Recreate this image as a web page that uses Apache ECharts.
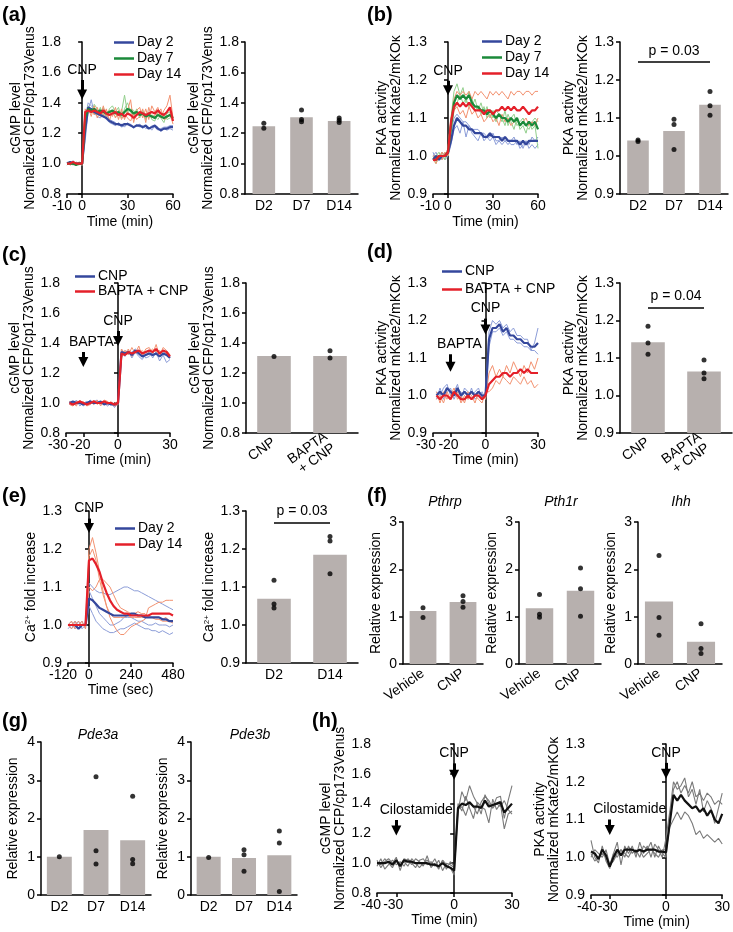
<!DOCTYPE html>
<html>
<head>
<meta charset="utf-8">
<script src="https://cdn.jsdelivr.net/npm/echarts@6/dist/echarts.min.js"></script>
<style>
  html, body { margin: 0; padding: 0; background: #fff; }
  #fig { width: 733px; height: 932px; }
</style>
</head>
<body>
<div id="fig"></div>
<script>
// ── time points ─────────────────────────────────────────
const tA = [-10,-8,-6,-4,-2,0, 2,4,6,8,10,12,14,16,18,20, 22,24,26,28,30,32,34,36,38,40, 42,44,46,48,50,52,54,56,58,60];
const tC = [-28,-26,-24,-22,-20,-18,-16,-14,-12,-10,-8,-6,-4,-2,0, 2,4,6,8,10,12,14,16,18,20,22,24,26,28,30];
const tE = [-120,-100,-80,-60,-40,-20, 0,20,40,60,80,100,120,140,160,180,200,220,240,260,280,300,320,340,360,380,400,420,440,460,480];
const tH = [-40,-38,-36,-34,-32,-30,-28,-26,-24,-22,-20,-18,-16,-14,-12,-10,-8,-6,-4,-2,0, 2,4,6,8,10,12,14,16,18,20,22,24,26,28,30];

// ── (a) cGMP, Day 2 / 7 / 14 ────────────────────────────
const aDay2   = [1.00,1.01,1.00,1.00,1.00,1.00, 1.22,1.37,1.36,1.34,1.33,1.32,1.31,1.30,1.28,1.27, 1.26,1.26,1.25,1.26,1.26,1.25,1.24,1.25,1.25,1.24, 1.25,1.23,1.24,1.25,1.23,1.22,1.23,1.23,1.24,1.24];
const aDay2r1 = [1.01,1.00,1.02,0.99,1.01,1.00, 1.30,1.40,1.38,1.36,1.35,1.33,1.31,1.32,1.29,1.28, 1.27,1.25,1.26,1.24,1.27,1.25,1.23,1.26,1.24,1.25, 1.23,1.24,1.22,1.25,1.24,1.21,1.23,1.22,1.23,1.22];
const aDay2r2 = [0.99,1.01,0.99,1.01,1.00,0.99, 1.15,1.35,1.42,1.33,1.31,1.30,1.32,1.29,1.27,1.26, 1.25,1.27,1.24,1.25,1.26,1.26,1.24,1.25,1.26,1.23, 1.25,1.23,1.25,1.24,1.22,1.23,1.24,1.24,1.25,1.25];
const aDay7   = [1.00,1.00,1.00,0.99,1.00,1.00, 1.30,1.36,1.35,1.36,1.34,1.35,1.34,1.33,1.34,1.35, 1.33,1.34,1.32,1.34,1.36,1.35,1.33,1.34,1.32,1.33, 1.31,1.32,1.31,1.30,1.32,1.31,1.30,1.31,1.32,1.30];
const aDay7r1 = [1.01,0.99,1.01,1.00,0.99,1.01, 1.28,1.38,1.33,1.39,1.36,1.33,1.37,1.31,1.36,1.38, 1.34,1.37,1.30,1.36,1.40,1.34,1.31,1.36,1.30,1.35, 1.29,1.34,1.29,1.28,1.35,1.30,1.27,1.33,1.34,1.28];
const aDay7r2 = [0.99,1.01,1.00,0.99,1.01,0.99, 1.32,1.34,1.36,1.33,1.32,1.37,1.31,1.35,1.32,1.33, 1.31,1.32,1.34,1.45,1.33,1.36,1.35,1.32,1.34,1.31, 1.33,1.30,1.32,1.31,1.29,1.32,1.33,1.29,1.30,1.31];
const aDay14   = [1.00,1.00,1.01,1.00,1.00,1.00, 1.34,1.35,1.34,1.35,1.34,1.33,1.35,1.33,1.32,1.33, 1.34,1.32,1.33,1.31,1.33,1.32,1.30,1.32,1.34,1.33, 1.32,1.33,1.34,1.33,1.35,1.33,1.32,1.34,1.37,1.28];
const aDay14r1 = [1.00,1.01,0.99,1.01,1.00,0.99, 1.36,1.33,1.36,1.32,1.37,1.31,1.38,1.30,1.35,1.31, 1.37,1.29,1.36,1.29,1.35,1.42,1.27,1.35,1.37,1.30, 1.36,1.29,1.38,1.34,1.37,1.30,1.35,1.38,1.45,1.30];
const aDay14r2 = [1.01,0.99,1.00,1.00,1.01,1.00, 1.32,1.37,1.31,1.38,1.30,1.35,1.32,1.36,1.28,1.35, 1.30,1.35,1.29,1.33,1.30,1.28,1.33,1.29,1.31,1.36, 1.27,1.37,1.30,1.32,1.33,1.36,1.29,1.30,1.33,1.26];
const aCats = ['D2', 'D7', 'D14'];
const aBars = [1.245, 1.305, 1.28];
const aDots = [['D2',1.265],['D2',1.232],['D7',1.352],['D7',1.29],['D7',1.275],['D14',1.30],['D14',1.285],['D14',1.27]];
const aArrows = [{ text: 'CNP', t: 0, from: 1.55, to: 1.455 }];

// ── (b) PKA, Day 2 / 7 / 14 ─────────────────────────────
const bDay2   = [0.99,1.00,0.99,1.00,1.00,1.01, 1.04,1.08,1.10,1.09,1.08,1.08,1.07,1.07,1.06,1.06, 1.06,1.05,1.05,1.06,1.05,1.05,1.05,1.04,1.05,1.04, 1.04,1.04,1.04,1.03,1.04,1.03,1.04,1.04,1.04,1.04];
const bDay2r1 = [1.00,1.01,0.99,1.01,1.00,1.02, 1.06,1.10,1.11,1.10,1.09,1.09,1.08,1.07,1.07,1.07, 1.06,1.06,1.05,1.05,1.06,1.04,1.04,1.05,1.04,1.03, 1.04,1.05,1.03,1.04,1.02,1.04,1.03,1.05,1.04,1.05];
const bDay2r2 = [1.01,0.99,1.00,1.00,0.99,1.00, 1.03,1.07,1.08,1.06,1.09,1.05,1.08,1.06,1.05,1.04, 1.06,1.04,1.05,1.04,1.05,1.03,1.04,1.03,1.04,1.04, 1.03,1.03,1.04,1.02,1.03,1.04,1.02,1.03,1.02,1.03];
const bDay7   = [0.99,0.99,1.00,1.00,1.00,1.01, 1.08,1.14,1.16,1.15,1.16,1.15,1.16,1.14,1.13,1.13, 1.12,1.12,1.11,1.12,1.11,1.10,1.11,1.10,1.10,1.09, 1.10,1.09,1.10,1.08,1.09,1.08,1.09,1.08,1.09,1.07];
const bDay7r1 = [1.00,0.98,1.00,1.01,0.99,1.02, 1.10,1.17,1.19,1.16,1.18,1.14,1.17,1.13,1.15,1.12, 1.14,1.11,1.13,1.10,1.12,1.09,1.11,1.10,1.08,1.11, 1.09,1.07,1.10,1.07,1.08,1.06,1.09,1.07,1.08,1.02];
const bDay7r2 = [0.99,1.00,1.01,0.99,1.01,1.00, 1.06,1.12,1.14,1.16,1.14,1.15,1.13,1.15,1.12,1.13, 1.11,1.13,1.10,1.12,1.10,1.12,1.11,1.09,1.12,1.08, 1.10,1.11,1.08,1.09,1.10,1.08,1.07,1.09,1.10,1.09];
const bDay14   = [0.99,0.99,1.00,1.00,1.00,1.01, 1.09,1.13,1.14,1.13,1.14,1.13,1.14,1.13,1.12,1.12, 1.12,1.11,1.12,1.12,1.11,1.12,1.12,1.13,1.12,1.13, 1.12,1.13,1.12,1.12,1.13,1.12,1.11,1.12,1.12,1.13];
const bDay14r1 = [1.00,1.00,0.99,1.01,1.00,1.02, 1.10,1.15,1.17,1.16,1.17,1.16,1.17,1.15,1.17,1.16, 1.17,1.16,1.15,1.17,1.16,1.17,1.16,1.17,1.16,1.15, 1.17,1.16,1.17,1.17,1.16,1.17,1.17,1.16,1.17,1.17];
const bDay14r2 = [0.99,0.98,1.00,0.99,1.01,1.00, 1.07,1.12,1.13,1.11,1.12,1.10,1.13,1.11,1.12,1.10, 1.11,1.09,1.10,1.11,1.09,1.10,1.08,1.11,1.09,1.10, 1.08,1.09,1.10,1.08,1.09,1.10,1.08,1.09,1.08,1.10];
const bBars = [1.041, 1.066, 1.135];
const bDots = [['D2',1.042],['D2',1.038],['D7',1.097],['D7',1.083],['D7',1.017],['D14',1.17],['D14',1.132],['D14',1.107]];
const bArrows = [{ text: 'CNP', t: 0, from: 1.198, to: 1.173 }];

// ── (c) cGMP, CNP vs BAPTA + CNP ────────────────────────
const cCNP   = [1.00,1.01,1.00,1.00,0.99,1.00,1.01,1.00,1.00,1.01,0.99,1.00,0.99,0.99,1.00, 1.34,1.33,1.34,1.32,1.35,1.33,1.31,1.32,1.33,1.32,1.33,1.31,1.33,1.32,1.30];
const cCNPr1 = [1.01,0.99,1.02,0.98,1.00,1.01,0.99,1.01,1.02,0.99,1.00,0.98,1.00,0.98,0.99, 1.36,1.31,1.35,1.30,1.34,1.31,1.29,1.33,1.35,1.30,1.34,1.28,1.32,1.27,1.29];
const cCNPr2 = [0.99,1.00,0.99,1.01,0.98,1.00,1.02,0.99,1.01,1.00,1.01,0.99,1.00,0.97,1.00, 1.32,1.35,1.33,1.34,1.36,1.34,1.33,1.30,1.31,1.34,1.32,1.34,1.33,1.35,1.31];
const cBAP   = [1.00,0.99,1.00,1.01,1.00,0.99,1.00,1.01,1.00,1.00,1.01,1.00,1.00,0.99,1.00, 1.33,1.32,1.34,1.33,1.34,1.35,1.33,1.34,1.35,1.34,1.36,1.33,1.35,1.34,1.31];
const cBAPr1 = [1.01,1.00,0.98,1.02,0.99,1.00,1.01,0.99,1.02,0.98,1.02,1.01,0.99,1.00,1.01, 1.30,1.35,1.32,1.37,1.33,1.38,1.31,1.36,1.37,1.33,1.39,1.31,1.37,1.35,1.32];
const cBAPr2 = [0.99,0.98,1.01,1.00,1.01,0.98,0.99,1.02,0.99,1.01,1.00,0.99,1.01,0.98,0.99, 1.36,1.33,1.36,1.31,1.35,1.33,1.35,1.32,1.34,1.36,1.34,1.35,1.33,1.33,1.30];
const cdCats = ['CNP', 'BAPTA\n+ CNP'];
const cBars = [1.313, 1.313];
const cDots = [['CNP',1.31],['BAPTA\n+ CNP',1.348],['BAPTA\n+ CNP',1.30]];
const cArrows = [
  { text: 'BAPTA', t: -20, from: 1.34, to: 1.273, off: [8, 0] },
  { text: 'CNP', t: 0, from: 1.48, to: 1.413 }
];

// ── (d) PKA, CNP vs BAPTA + CNP ─────────────────────────
const dCNP   = [1.00,1.01,1.00,1.02,1.01,1.00,1.02,1.00,1.01,1.00,1.01,1.00,1.01,1.00,1.00, 1.15,1.18,1.18,1.19,1.17,1.18,1.16,1.16,1.15,1.15,1.14,1.14,1.13,1.13,1.14];
const dCNPr1 = [1.01,1.00,1.02,1.03,1.00,1.01,1.03,0.99,1.02,1.01,1.00,1.01,1.02,0.99,1.01, 1.17,1.20,1.19,1.20,1.18,1.19,1.17,1.18,1.16,1.16,1.15,1.15,1.12,1.14,1.18];
const dCNPr2 = [0.99,1.02,0.99,1.01,1.02,0.99,1.01,1.01,1.00,0.99,1.02,0.99,1.00,1.01,0.99, 1.13,1.17,1.17,1.18,1.16,1.17,1.15,1.15,1.14,1.14,1.13,1.13,1.12,1.12,1.11];
const dBAP   = [1.00,0.99,1.00,1.00,0.99,1.01,1.00,0.99,0.99,1.00,0.99,1.00,1.00,0.99,1.00, 1.03,1.04,1.05,1.05,1.06,1.06,1.05,1.06,1.06,1.07,1.06,1.07,1.06,1.06,1.06];
const dBAPr1 = [1.01,0.98,1.01,0.99,1.00,1.02,0.99,1.00,0.98,1.01,1.00,0.98,1.01,1.00,0.99, 1.06,1.08,1.05,1.07,1.05,1.08,1.06,1.09,1.07,1.05,1.08,1.06,1.09,1.07,1.10];
const dBAPr2 = [0.99,1.00,0.98,1.01,0.99,1.00,1.01,0.98,1.00,0.99,1.01,1.00,0.99,0.98,1.01, 1.01,1.02,1.04,1.03,1.05,1.04,1.03,1.05,1.04,1.03,1.05,1.03,1.04,1.02,1.03];
const dBars = [1.142, 1.064];
const dDots = [['CNP',1.185],['CNP',1.14],['CNP',1.11],['BAPTA\n+ CNP',1.095],['BAPTA\n+ CNP',1.06],['BAPTA\n+ CNP',1.045]];
const dArrows = [
  { text: 'BAPTA', t: -20, from: 1.11, to: 1.077, off: [9, 0] },
  { text: 'CNP', t: 0, from: 1.205, to: 1.176 }
];

// ── (e) Ca2+, Day 2 / 14 ────────────────────────────────
const eD2   = [1.00,1.00,1.00,0.99,1.00,1.00, 1.07,1.065,1.055,1.045,1.04,1.035,1.03,1.025,1.025,1.025,1.025,1.025,1.03,1.03,1.025,1.025,1.02,1.02,1.02,1.02,1.02,1.015,1.015,1.01,1.01];
const eD2r1 = [1.00,0.99,1.01,1.00,1.00,1.00, 1.11,1.10,1.09,1.085,1.085,1.08,1.08,1.085,1.09,1.095,1.10,1.10,1.095,1.09,1.09,1.085,1.08,1.075,1.07,1.065,1.06,1.055,1.05,1.045,1.04];
const eD2r2 = [1.00,1.01,0.99,1.00,1.01,0.99, 1.05,1.03,1.01,1.00,0.99,0.985,0.98,0.98,0.985,0.99,0.99,0.995,1.00,1.005,1.00,0.995,0.99,0.99,0.985,0.985,0.98,0.985,0.98,0.975,0.98];
const eD2r3 = [0.99,1.00,1.00,1.01,0.99,1.00, 1.09,1.07,1.05,1.03,1.02,1.01,1.00,1.00,1.005,1.01,1.02,1.02,1.02,1.015,1.01,1.01,1.005,1.00,1.00,1.005,1.00,1.00,1.00,0.995,1.00];
const eD14   = [1.00,1.00,1.00,1.00,1.00,1.00, 1.17,1.175,1.16,1.14,1.11,1.085,1.065,1.05,1.04,1.035,1.03,1.03,1.025,1.025,1.025,1.025,1.025,1.025,1.03,1.03,1.03,1.03,1.03,1.03,1.025];
const eD14r1 = [1.00,1.00,1.01,0.99,1.00,1.00, 1.20,1.23,1.19,1.14,1.09,1.05,1.02,1.00,0.985,0.975,0.975,0.985,0.995,1.00,1.005,1.01,1.015,1.045,1.05,1.055,1.06,1.06,1.065,1.065,1.065];
const eD14r2 = [1.00,0.99,1.00,1.01,1.00,1.00, 1.10,1.09,1.10,1.12,1.12,1.11,1.10,1.08,1.06,1.045,1.04,1.035,1.03,1.03,1.035,1.03,1.03,1.02,1.02,1.02,1.02,1.015,1.02,1.01,1.01];
const eD14r3 = [1.00,1.01,0.99,1.00,1.01,0.99, 1.18,1.20,1.17,1.12,1.08,1.05,1.03,1.02,1.02,1.02,1.02,1.025,1.02,1.02,1.02,1.02,1.02,1.02,1.02,1.015,1.015,1.01,1.01,1.01,1.005];
const eCats = ['D2', 'D14'];
const eBars = [1.069, 1.185];
const eDots = [['D2',1.118],['D2',1.055],['D2',1.045],['D14',1.233],['D14',1.221],['D14',1.135]];
const eArrows = [{ text: 'CNP', t: 0, from: 1.28, to: 1.255 }];

// ── (f) relative expression, Vehicle vs CNP ─────────────
const fCats = ['Vehicle', 'CNP'];
const fPthrp = [1.12, 1.31];
const fPthrpDots = [['Vehicle',1.19],['Vehicle',0.98],['CNP',1.44],['CNP',1.32],['CNP',1.20]];
const fPth1r = [1.18, 1.55];
const fPth1rDots = [['Vehicle',1.47],['Vehicle',1.05],['Vehicle',0.99],['CNP',2.03],['CNP',1.59],['CNP',1.01]];
const fIhh = [1.32, 0.47];
const fIhhDots = [['Vehicle',2.29],['Vehicle',0.98],['Vehicle',0.61],['CNP',0.85],['CNP',0.33],['CNP',0.22]];

// ── (g) Pde3a / Pde3b ───────────────────────────────────
const gPde3a = [1.0, 1.70, 1.43];
const gPde3aDots = [['D2',1.0],['D7',3.09],['D7',1.16],['D7',0.81],['D14',2.58],['D14',0.93],['D14',0.82]];
const gPde3b = [1.0, 0.97, 1.04];
const gPde3bDots = [['D2',0.98],['D7',1.18],['D7',1.05],['D7',0.62],['D14',1.67],['D14',1.36],['D14',0.09]];

// ── (h) cilostamide + CNP ───────────────────────────────
const hL   = [1.00,1.00,1.00,1.01,0.99,1.02,0.98,1.02,1.01,1.01,1.00,1.00,1.00,1.00,0.99,0.99,0.98,1.00,0.98,0.97,0.95, 1.37,1.40,1.39,1.41,1.38,1.38,1.37,1.42,1.38,1.39,1.40,1.41,1.34,1.37,1.40];
const hLr1 = [1.02,0.97,1.01,1.03,1.00,1.04,0.95,1.03,1.02,0.99,1.03,1.01,0.98,1.05,0.97,1.00,0.96,1.02,0.99,0.97,0.92, 1.35,1.48,1.42,1.52,1.45,1.40,1.33,1.46,1.40,1.37,1.44,1.45,1.30,1.42,1.52];
const hLr2 = [0.98,1.03,0.96,0.99,1.02,0.99,1.01,0.98,1.03,1.00,0.97,1.02,1.03,0.99,1.01,0.98,1.02,0.95,1.00,0.99,0.97, 1.40,1.35,1.45,1.37,1.30,1.41,1.38,1.36,1.27,1.43,1.36,1.40,1.23,1.33,1.35];
const hLr3 = [1.00,0.99,1.03,1.00,0.97,1.02,0.99,1.01,0.98,1.03,1.00,0.97,1.00,1.02,0.99,1.03,0.97,1.02,0.96,1.01,0.98, 1.36,1.38,1.32,1.40,1.38,1.33,1.41,1.45,1.42,1.37,1.40,1.38,1.42,1.36,1.33];
const hR   = [1.015,1.01,0.995,1.02,1.005,0.975,1.00,1.02,1.005,1.02,1.02,1.02,1.015,1.02,1.015,1.02,1.02,1.02,1.015,1.015,1.013, 1.09,1.165,1.15,1.165,1.15,1.14,1.13,1.135,1.12,1.13,1.11,1.125,1.10,1.09,1.115];
const hRr1 = [1.045,1.00,0.985,1.03,0.99,0.97,1.01,1.04,0.98,1.03,1.01,1.03,1.00,1.04,1.01,1.03,1.00,1.035,1.02,1.00,1.05, 1.12,1.20,1.18,1.19,1.21,1.16,1.18,1.14,1.18,1.12,1.15,1.13,1.09,1.13,1.17];
const hRr2 = [1.00,1.02,1.01,1.00,1.02,0.98,0.99,1.01,1.02,1.00,1.03,1.01,1.02,1.00,1.03,1.02,1.04,1.00,1.03,1.01,1.00, 1.10,1.18,1.20,1.17,1.19,1.17,1.20,1.16,1.17,1.15,1.17,1.16,1.14,1.15,1.14];
const hRr3 = [1.01,0.99,1.00,1.01,1.00,0.98,1.01,1.00,1.02,1.01,1.00,1.02,1.01,1.02,1.00,1.01,1.02,1.01,1.00,1.02,1.02, 1.08,1.10,1.12,1.10,1.12,1.11,1.09,1.06,1.07,1.05,1.06,1.05,1.04,1.05,1.035];
const hLArrows = [
  { text: 'Cilostamide', t: -30, from: 1.29, to: 1.22, off: [20, 0] },
  { text: 'CNP', t: 0, from: 1.67, to: 1.593 }
];
const hRArrows = [
  { text: 'Cilostamide', t: -30, from: 1.10, to: 1.072, off: [20, 0] },
  { text: 'CNP', t: 0, from: 1.25, to: 1.221 }
];

// ── 樣式 ────────────────────────────────────────────────
const F = 'Liberation Sans, Arial, sans-serif';
const BLK = '#000';
const BLUE = '#34479c', BLUE_L = '#8c9dd8';
const GREEN = '#1b8a3a', GREEN_L = '#92cf8c';
const RED = '#e4202a', RED_L = '#f39270';
const BAR = '#b7b0ae';
const cgmpName = 'cGMP level\nNormalized CFP/cp173Venus';
const pkaName = 'PKA activity\nNormalized mKate2/mKOκ';

const axLine = { show: true, lineStyle: { color: BLK, width: 1.5 } };
const axTick = { show: true, length: 4, inside: false, lineStyle: { color: BLK, width: 1.5 } };
const txt = { color: BLK, fontSize: 14, fontFamily: F };

function yVal(min, max, step, dec, name, gap) {
  return {
    type: 'value', min, max, interval: step,
    axisLine: axLine, axisTick: axTick, splitLine: { show: false },
    axisLabel: { ...txt, margin: 6, formatter: v => v.toFixed(dec) },
    name, nameLocation: 'middle', nameGap: gap,
    nameTextStyle: { ...txt, lineHeight: 14,
      rich: { sup: { fontSize: 8, fontFamily: F, color: BLK, verticalAlign: 'top', lineHeight: 10 } } }
  };
}
// shift: 標籤向左偏移（像素），對應 ticks 前兩個刻度
function xTime(min, max, ticks, name, gap, shift) {
  const [s0, s1] = shift || [4, 0];
  return {
    type: 'value', min, max,
    axisLine: axLine, axisTick: { ...axTick, customValues: ticks }, splitLine: { show: false },
    axisLabel: {
      ...txt, margin: 5, customValues: ticks, hideOverlap: false,
      showMinLabel: true, showMaxLabel: true,
      formatter: v => v === ticks[0] ? `{l|${v}}` : (v === ticks[1] && s1 ? `{m|${v}}` : `${v}`),
      rich: { l: { ...txt, padding: [0, s0 * 2, 0, 0] }, m: { ...txt, padding: [0, s1 * 2, 0, 0] } }
    },
    name, nameLocation: 'middle', nameGap: gap || 21, nameTextStyle: txt
  };
}
function xCat(cats, rotate) {
  return {
    type: 'category', data: cats,
    axisLine: axLine, axisTick: { show: false },
    axisLabel: { ...txt, margin: rotate ? 8 : 5, rotate: rotate || 0, interval: 0, lineHeight: 14 }
  };
}

const grids = [], xAxes = [], yAxes = [], series = [];
function addGrid(box, xa, ya) {
  const g = grids.length;
  grids.push(box);
  xAxes.push({ ...xa, gridIndex: g });
  yAxes.push({ ...ya, gridIndex: g });
  return g;
}
function line(g, t, v, color, width, name) {
  const s = {
    type: 'line', name, xAxisIndex: g, yAxisIndex: g, silent: true,
    data: t.map((x, i) => [x, v[i]]), symbol: 'none', z: width > 1.5 ? 3 : 2,
    lineStyle: { color, width }, itemStyle: { color }
  };
  series.push(s);
  return s;
}
function bars(g, vals, dots, bw) {
  const s = { type: 'bar', xAxisIndex: g, yAxisIndex: g, silent: true,
    data: vals, barWidth: bw, itemStyle: { color: BAR } };
  series.push(s);
  series.push({ type: 'scatter', xAxisIndex: g, yAxisIndex: g, silent: true, z: 4,
    data: dots, symbolSize: 5, itemStyle: { color: BLK } });
  return s;
}
function arrowMark(list) {
  return {
    silent: true, animation: false, symbol: ['none', 'triangle'], symbolSize: 10,
    lineStyle: { color: BLK, width: 3, type: 'solid' }, itemStyle: { color: BLK },
    emphasis: { disabled: true },
    label: { show: true, position: 'start', ...txt, distance: 3 },
    data: list.map(a => [
      { coord: [a.t, a.from], label: { formatter: a.text, offset: a.off || [0, 0] } },
      { coord: [a.t, a.to] }
    ])
  };
}
function pMark(c1, c2, y, text) {
  return {
    silent: true, animation: false, symbol: 'none', emphasis: { disabled: true },
    lineStyle: { color: BLK, width: 1.5, type: 'solid' },
    label: { show: true, position: 'insideMiddleTop', formatter: text, ...txt, distance: 4 },
    data: [[{ coord: [c1, y] }, { coord: [c2, y] }]]
  };
}

// ── (a) ─────────────────────────────────────────────────
let g = addGrid({ left: 67, top: 42, width: 106, height: 152 },
  xTime(-10, 60, [-10, 0, 30, 60], 'Time (min)', 21, [5, 0]), yVal(0.8, 1.8, 0.2, 1, cgmpName, 25));
[aDay2r1, aDay2r2].forEach(v => line(g, tA, v, BLUE_L, 1));
[aDay7r1, aDay7r2].forEach(v => line(g, tA, v, GREEN_L, 1));
[aDay14r1, aDay14r2].forEach(v => line(g, tA, v, RED_L, 1));
line(g, tA, aDay2, BLUE, 2.2, 'Day 2');
line(g, tA, aDay7, GREEN, 2.2, 'Day 7');
line(g, tA, aDay14, RED, 2.2, 'Day 14').markLine = arrowMark(aArrows);

g = addGrid({ left: 245, top: 42, width: 113, height: 152 },
  xCat(aCats), yVal(0.8, 1.8, 0.2, 1, cgmpName, 28));
bars(g, aBars, aDots, '60%');

// ── (b) ─────────────────────────────────────────────────
g = addGrid({ left: 433, top: 42, width: 105, height: 152 },
  xTime(-10, 60, [-10, 0, 30, 60], 'Time (min)', 21, [3, 0]), yVal(0.9, 1.3, 0.1, 1, pkaName, 26));
[bDay2r1, bDay2r2].forEach(v => line(g, tA, v, BLUE_L, 1));
[bDay7r1, bDay7r2].forEach(v => line(g, tA, v, GREEN_L, 1));
[bDay14r1, bDay14r2].forEach(v => line(g, tA, v, RED_L, 1));
line(g, tA, bDay2, BLUE, 2.2, 'Day 2');
line(g, tA, bDay7, GREEN, 2.2, 'Day 7');
line(g, tA, bDay14, RED, 2.2, 'Day 14').markLine = arrowMark(bArrows);

g = addGrid({ left: 620, top: 42, width: 108, height: 152 },
  xCat(aCats), yVal(0.9, 1.3, 0.1, 1, pkaName, 25));
bars(g, bBars, bDots, '60%').markLine = pMark('D2', 'D14', 1.247, 'p = 0.03');

// ── (c) ─────────────────────────────────────────────────
g = addGrid({ left: 66, top: 283, width: 104, height: 150 },
  xTime(-30, 30, [-30, -20, 0, 30], 'Time (min)', 19, [8, 3]), yVal(0.8, 1.8, 0.2, 1, cgmpName, 24));
[cCNPr1, cCNPr2].forEach(v => line(g, tC, v, BLUE_L, 1));
[cBAPr1, cBAPr2].forEach(v => line(g, tC, v, RED_L, 1));
line(g, tC, cCNP, BLUE, 2.2, 'CNP');
line(g, tC, cBAP, RED, 2.2, 'BAPTA + CNP').markLine = arrowMark(cArrows);

g = addGrid({ left: 246, top: 283, width: 112, height: 150 },
  xCat(cdCats, 35), yVal(0.8, 1.8, 0.2, 1, cgmpName, 28));
bars(g, cBars, cDots, '60%');

// ── (d) ─────────────────────────────────────────────────
g = addGrid({ left: 433, top: 283, width: 105, height: 150 },
  xTime(-30, 30, [-30, -20, 0, 30], 'Time (min)', 19, [7, 2]), yVal(0.9, 1.3, 0.1, 1, pkaName, 26));
[dCNPr1, dCNPr2].forEach(v => line(g, tC, v, BLUE_L, 1));
[dBAPr1, dBAPr2].forEach(v => line(g, tC, v, RED_L, 1));
line(g, tC, dCNP, BLUE, 2.2, 'CNP');
line(g, tC, dBAP, RED, 2.2, 'BAPTA + CNP').markLine = arrowMark(dArrows);

g = addGrid({ left: 620, top: 283, width: 112, height: 150 },
  xCat(cdCats, 35), yVal(0.9, 1.3, 0.1, 1, pkaName, 25));
bars(g, dBars, dDots, '60%').markLine = pMark('CNP', 'BAPTA\n+ CNP', 1.235, 'p = 0.04');

// ── (e) ─────────────────────────────────────────────────
const caName = 'Ca{sup|2+} fold increase';
g = addGrid({ left: 68, top: 511, width: 105, height: 152 },
  xTime(-120, 480, [-120, 0, 240, 480], 'Time (sec)', 20, [5, 0]), yVal(0.9, 1.3, 0.1, 1, caName, 30));
[eD2r1, eD2r2, eD2r3].forEach(v => line(g, tE, v, BLUE_L, 1));
[eD14r1, eD14r2, eD14r3].forEach(v => line(g, tE, v, RED_L, 1));
line(g, tE, eD2, BLUE, 2.2, 'Day 2');
line(g, tE, eD14, RED, 2.2, 'Day 14').markLine = arrowMark(eArrows);

g = addGrid({ left: 246, top: 511, width: 112, height: 152 },
  xCat(eCats), yVal(0.9, 1.3, 0.1, 1, caName, 26));
bars(g, eBars, eDots, '60%').markLine = pMark('D2', 'D14', 1.27, 'p = 0.03');

// ── (f) ─────────────────────────────────────────────────
const relName = 'Relative expression';
g = addGrid({ left: 403, top: 522, width: 80, height: 142 }, xCat(fCats, 35), yVal(0, 3, 1, 0, relName, 20));
bars(g, fPthrp, fPthrpDots, '67%');
g = addGrid({ left: 519, top: 522, width: 82, height: 142 }, xCat(fCats, 35), yVal(0, 3, 1, 0, relName, 20));
bars(g, fPth1r, fPth1rDots, '67%');
g = addGrid({ left: 638, top: 522, width: 84, height: 142 }, xCat(fCats, 35), yVal(0, 3, 1, 0, relName, 20));
bars(g, fIhh, fIhhDots, '67%');

// ── (g) ─────────────────────────────────────────────────
g = addGrid({ left: 41, top: 742, width: 110, height: 153 }, xCat(aCats), yVal(0, 4, 1, 0, relName, 21));
bars(g, gPde3a, gPde3aDots, '68%');
g = addGrid({ left: 191, top: 742, width: 106, height: 153 }, xCat(aCats), yVal(0, 4, 1, 0, relName, 21));
bars(g, gPde3b, gPde3bDots, '68%');

// ── (h) ─────────────────────────────────────────────────
g = addGrid({ left: 377, top: 744, width: 135, height: 149 },
  xTime(-40, 30, [-40, -30, 0, 30], 'Time (min)', 17, [6, 3]), yVal(0.8, 1.8, 0.2, 1, cgmpName, 22));
[hLr1, hLr2, hLr3].forEach(v => line(g, tH, v, '#7a7a7a', 1.1));
line(g, tH, hL, '#111', 2.2).markLine = arrowMark(hLArrows);

g = addGrid({ left: 591, top: 744, width: 134, height: 151 },
  xTime(-40, 30, [-40, -30, 0, 30], 'Time (min)', 17, [4, 2]), yVal(0.9, 1.3, 0.1, 1, pkaName, 28));
[hRr1, hRr2, hRr3].forEach(v => line(g, tH, v, '#7a7a7a', 1.1));
line(g, tH, hR, '#111', 2.2).markLine = arrowMark(hRArrows);

// ── 圖例 ────────────────────────────────────────────────
function legend(left, top, names, gap) {
  return {
    left, top, orient: 'vertical', data: names, icon: 'rect', itemWidth: 20, itemHeight: 2.5,
    itemGap: gap, selectedMode: false, padding: 0,
    textStyle: { ...txt, lineHeight: 15, padding: [0, 0, 0, -2] }
  };
}

// ── 面板標籤 ────────────────────────────────────────────
const panelLabels = [['(a)', 2, 5], ['(b)', 367, 5], ['(c)', 2, 245], ['(d)', 367, 242],
  ['(e)', 2, 486], ['(f)', 367, 486], ['(g)', 2, 711], ['(h)', 312, 711]];
const geneTitles = [['Pthrp', 445, 502], ['Pth1r', 561, 502], ['Ihh', 681, 502], ['Pde3a', 98, 735], ['Pde3b', 250, 735]];
const graphic = [
  ...panelLabels.map(([t, x, y]) => ({ type: 'text', left: x, top: y,
    style: { text: t, font: `bold 20px ${F}`, fill: BLK } })),
  ...geneTitles.map(([t, x, y]) => ({ type: 'text', x, y,
    style: { text: t, font: `italic 14px ${F}`, fill: BLK, align: 'center', verticalAlign: 'middle',
      textAlign: 'center', textVerticalAlign: 'middle' } }))
];

const chart = echarts.init(document.getElementById('fig'), null, { renderer: 'canvas' });
chart.setOption({
  animation: false,
  backgroundColor: '#fff',
  textStyle: { fontFamily: F },
  grid: grids,
  xAxis: xAxes,
  yAxis: yAxes,
  series,
  legend: [
    legend(114, 35, ['Day 2', 'Day 7', 'Day 14'], 1),
    legend(482, 34, ['Day 2', 'Day 7', 'Day 14'], 1),
    legend(75, 269, ['CNP', 'BAPTA + CNP'], 0),
    legend(442, 264, ['CNP', 'BAPTA + CNP'], 3),
    legend(115, 521, ['Day 2', 'Day 14'], 1)
  ],
  graphic
});
</script>
</body>
</html>
